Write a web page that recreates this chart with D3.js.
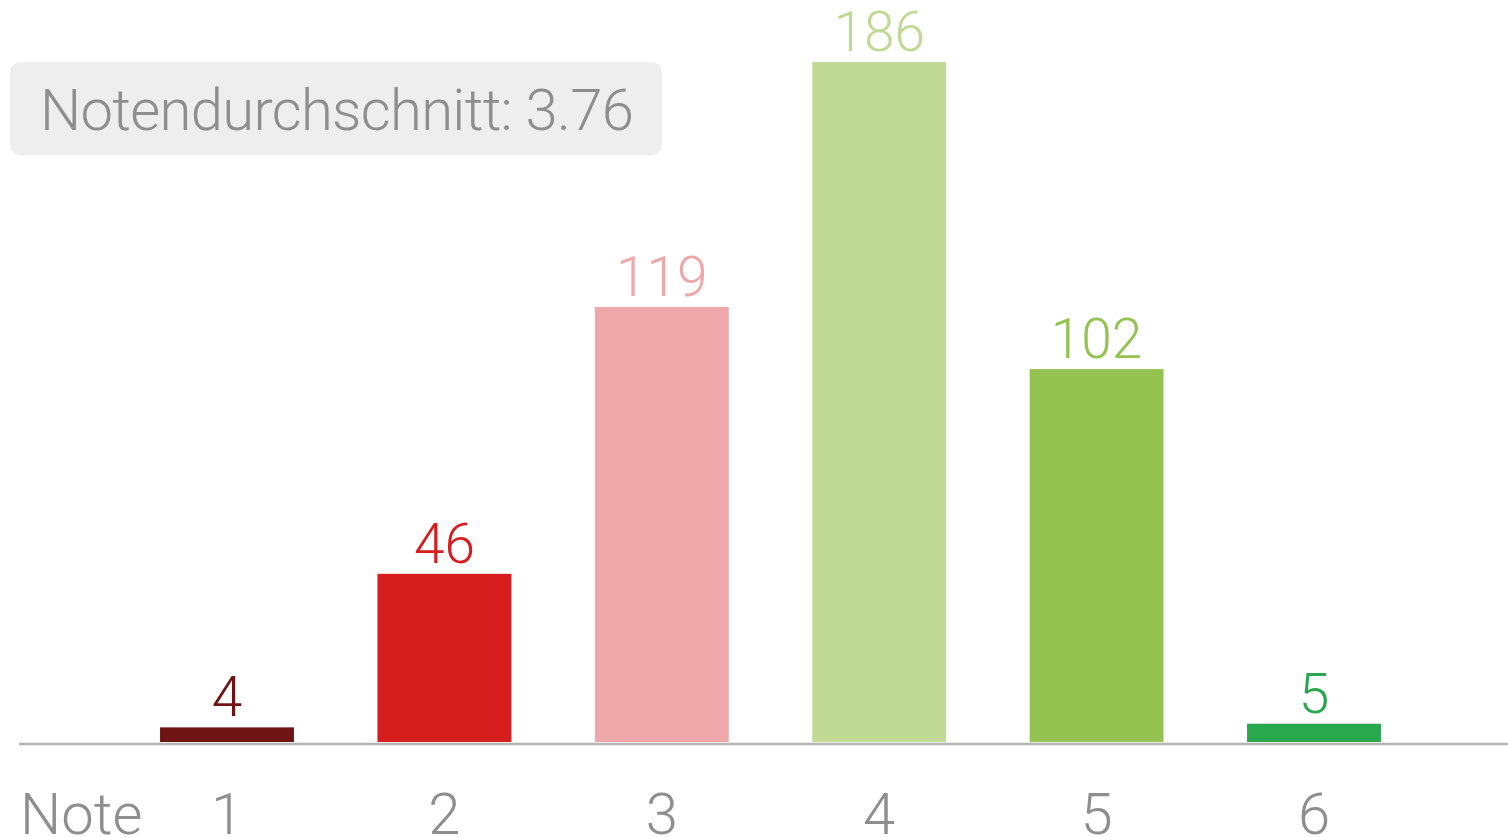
<!DOCTYPE html>
<html>
<head>
<meta charset="utf-8">
<script src="https://cdn.jsdelivr.net/npm/d3@7"></script>
<style>
  body { margin: 0; background: #fff; overflow: hidden; }
  text { font-family: Roboto, "Open Sans", sans-serif; font-weight: 300; }
</style>
</head>
<body>
<script>
// Grades and how often each was given.
const grades = ["1", "2", "3", "4", "5", "6"];
const counts = [4, 46, 119, 186, 102, 5];
const colors = ["#6e1414", "#d71e1f", "#eea8a9", "#c0da96", "#95c352", "#2aa84f"];
const averageLabel = "Notendurchschnitt: 3.76";
const axisTitle = "Note";

const width = 1508;
const height = 837;
const baseline = 742;

const svg = d3.select('body').append('svg')
    .attr('width', width)
    .attr('height', height);

// X scale: one band per grade
const x = d3.scaleBand()
    .domain(grades)
    .range([118.3, 1422.7])
    .paddingInner(0.384)
    .paddingOuter(0.192);

// Y scale
const y = d3.scaleLinear()
    .domain([0, d3.max(counts)])
    .range([baseline, 62]);

const data = grades.map((g, i) => ({ grade: g, count: counts[i], color: colors[i] }));

// Bars
svg.selectAll('rect.bar')
    .data(data)
    .join('rect')
    .attr('class', 'bar')
    .attr('x', d => x(d.grade))
    .attr('y', d => y(d.count))
    .attr('width', x.bandwidth())
    .attr('height', d => baseline - y(d.count))
    .attr('fill', d => d.color);

// Value labels above the bars
svg.selectAll('text.value')
    .data(data)
    .join('text')
    .attr('class', 'value')
    .attr('x', d => x(d.grade) + x.bandwidth() / 2)
    .attr('y', d => y(d.count) - 11)
    .attr('text-anchor', 'middle')
    .attr('font-size', 55)
    .attr('fill', d => d.color)
    .text(d => d.count);

// Baseline
svg.append('line')
    .attr('x1', 19)
    .attr('x2', width)
    .attr('y1', baseline + 2)
    .attr('y2', baseline + 2)
    .attr('stroke', '#b3b3b3')
    .attr('stroke-width', 2.5);

// Bottom axis, drawn with d3 but without domain line or ticks
const axis = svg.append('g')
    .attr('transform', `translate(0, ${baseline})`)
    .call(d3.axisBottom(x).tickSize(0).tickPadding(0));
axis.select('.domain').remove();
axis.selectAll('text')
    .attr('y', 92)
    .attr('dy', 0)
    .attr('font-size', 58)
    .attr('font-family', 'Roboto, sans-serif')
    .attr('fill', '#8e8e8e');

svg.append('text')
    .attr('x', 20)
    .attr('y', baseline + 92)
    .attr('font-size', 58)
    .attr('fill', '#8e8e8e')
    .text(axisTitle);

// Average box
svg.append('rect')
    .attr('x', 10)
    .attr('y', 62)
    .attr('width', 652)
    .attr('height', 93)
    .attr('rx', 10)
    .attr('fill', '#eeeeee');

svg.append('text')
    .attr('x', 40)
    .attr('y', 130)
    .attr('font-size', 58)
    .attr('letter-spacing', -0.7)
    .attr('fill', '#8e8e8e')
    .text(averageLabel);
</script>
</body>
</html>
